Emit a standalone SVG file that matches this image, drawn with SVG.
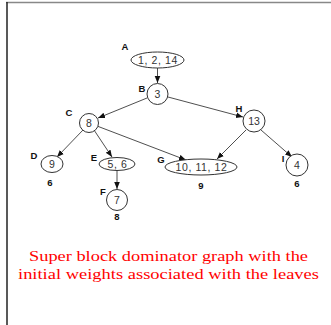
<svg xmlns="http://www.w3.org/2000/svg" width="331" height="325" viewBox="0 0 331 325">
<defs>
<marker id="ah" viewBox="0 0 10 10" refX="10" refY="5" markerWidth="7" markerHeight="7" orient="auto" markerUnits="userSpaceOnUse">
<path d="M0,1 L10,5 L0,9 Z" fill="#111"/>
</marker>
<style>
.n{fill:#fff;stroke:#333;stroke-width:1}
.t{font-family:"Liberation Sans",Arial,sans-serif;font-size:10.5px;fill:#333;text-anchor:middle}
.w{letter-spacing:0.6px}
.l{font-family:"Liberation Sans",Arial,sans-serif;font-size:9.5px;font-weight:bold;fill:#111;text-anchor:middle}
.e{fill:none;stroke:#222;stroke-width:0.8;marker-end:url(#ah)}
.c{font-family:"Liberation Serif","Times New Roman",serif;font-size:15px;fill:#ff0000;text-anchor:middle}
</style>
</defs>
<rect width="331" height="325" fill="#fff"/>
<line x1="6" y1="2.5" x2="331" y2="2.5" stroke="#888" stroke-width="1.5"/>
<line x1="7" y1="2" x2="7" y2="325" stroke="#222" stroke-width="1.5"/>
<g id="edges">
<line class="e" x1="157.5" y1="67.5" x2="157.5" y2="83"/>
<line class="e" x1="147" y1="98" x2="98" y2="118"/>
<line class="e" x1="168" y1="97" x2="243" y2="117"/>
<line class="e" x1="83" y1="130" x2="57" y2="157"/>
<line class="e" x1="94" y1="130" x2="112" y2="157"/>
<line class="e" x1="97" y1="126" x2="186" y2="160"/>
<line class="e" x1="246" y1="130" x2="217" y2="159"/>
<line class="e" x1="261" y1="130" x2="292" y2="157"/>
<line class="e" x1="117" y1="170.5" x2="117" y2="189"/>
</g>
<g id="A"><ellipse class="n" cx="157.5" cy="60" rx="26.5" ry="8"/><text class="t w" x="158" y="64">1, 2, 14</text><text class="l" x="125" y="50">A</text></g>
<g id="B"><circle class="n" cx="157.5" cy="94" r="10.5"/><text class="t" x="157.5" y="98">3</text><text class="l" x="142" y="92">B</text></g>
<g id="C"><circle class="n" cx="89" cy="123" r="9.5"/><text class="t" x="89" y="127">8</text><text class="l" x="69" y="116">C</text></g>
<g id="D"><ellipse class="n" cx="52" cy="164" rx="11" ry="8.5"/><text class="t" x="52" y="168">9</text><text class="l" x="34" y="159">D</text><text class="l" x="50" y="186">6</text></g>
<g id="E"><ellipse class="n" cx="117" cy="164" rx="18" ry="6.5"/><text class="t w" x="117.5" y="168">5, 6</text><text class="l" x="94" y="161">E</text></g>
<g id="F"><circle class="n" cx="117" cy="200" r="10.5"/><text class="t" x="117" y="204">7</text><text class="l" x="103" y="195">F</text><text class="l" x="117" y="220">8</text></g>
<g id="G"><ellipse class="n" cx="201" cy="167" rx="36" ry="8"/><text class="t w" x="201.5" y="171">10, 11, 12</text><text class="l" x="161" y="163">G</text><text class="l" x="201" y="189">9</text></g>
<g id="H"><circle class="n" cx="254" cy="121" r="11"/><text class="t" x="254" y="125">13</text><text class="l" x="239" y="112">H</text></g>
<g id="I"><circle class="n" cx="297" cy="165" r="11"/><text class="t" x="297" y="169">4</text><text class="l" x="283" y="162">I</text><text class="l" x="297" y="187">6</text></g>
<g id="caption">
<text class="c" x="168.5" y="261" textLength="279" lengthAdjust="spacingAndGlyphs">Super block dominator graph with the</text>
<text class="c" x="168.5" y="279" textLength="301" lengthAdjust="spacingAndGlyphs">initial weights associated with the leaves</text>
</g>
</svg>
